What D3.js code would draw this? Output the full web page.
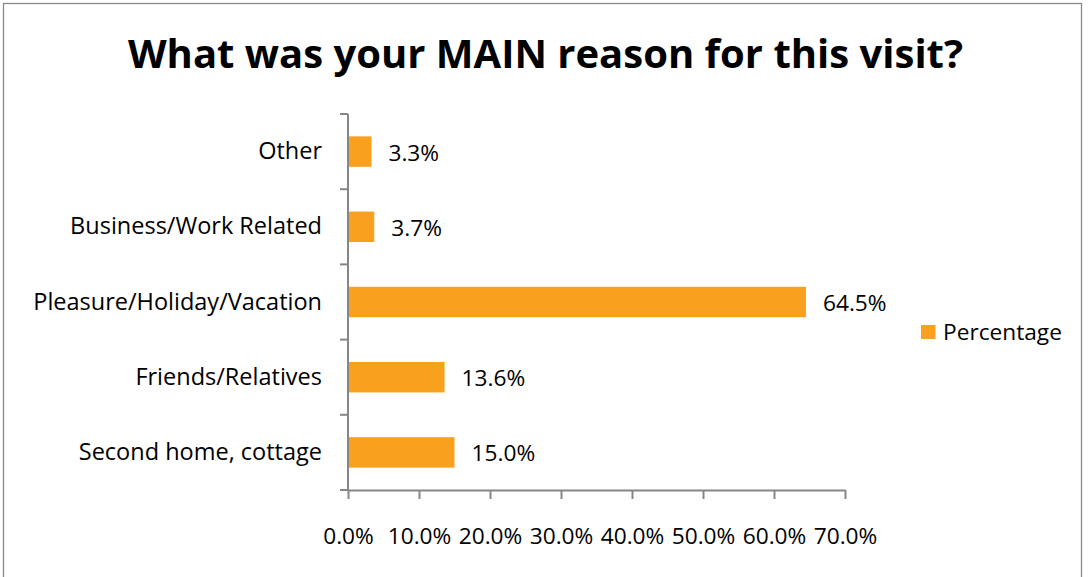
<!DOCTYPE html>
<html>
<head>
<meta charset="utf-8">
<script src="https://cdn.jsdelivr.net/npm/d3@7"></script>
<style>
  html, body { margin: 0; padding: 0; background: #fff; }
  svg { display: block; }
  text { font-family: "Open Sans", sans-serif; fill: #000; }
</style>
</head>
<body>
<svg id="chart" width="1091" height="577"></svg>
<script>
// Survey answers, listed top to bottom as they appear on the chart
const categories = ["Other", "Business/Work Related", "Pleasure/Holiday/Vacation", "Friends/Relatives", "Second home, cottage"];
const percentages = [3.3, 3.7, 64.5, 13.6, 15.0];
const tickValues = [0, 10, 20, 30, 40, 50, 60, 70];
const seriesName = "Percentage";
const chartTitle = "What was your MAIN reason for this visit?";

const svg = d3.select("#chart");
const W = 1091, H = 577;
const barColor = "#F9A11F";
const axisColor = "#868686";

// outer frame (open at the bottom edge)
svg.append("rect")
  .attr("x", 3.5).attr("y", 3.5)
  .attr("width", 1078).attr("height", 620)
  .attr("fill", "none").attr("stroke", "#8a8a8a").attr("stroke-width", 1.3);

svg.append("text")
  .attr("x", W / 2).attr("y", 68)
  .attr("text-anchor", "middle")
  .style("font-size", "40px").style("font-weight", "700")
  .text(chartTitle);

const plot = { left: 348, right: 845, top: 114, bottom: 490 };

const x = d3.scaleLinear().domain([0, 70]).range([plot.left, plot.right]);
const pad = 0.595;
const y = d3.scaleBand().domain(categories)
  .range([plot.top, plot.bottom])
  .paddingInner(pad).paddingOuter(pad / 2);

// bars
svg.append("g").selectAll("rect")
  .data(categories)
  .join("rect")
  .attr("x", x(0))
  .attr("y", d => y(d))
  .attr("width", (d, i) => x(percentages[i]) - x(0))
  .attr("height", y.bandwidth())
  .attr("fill", barColor);

// value labels
svg.append("g").selectAll("text")
  .data(categories)
  .join("text")
  .attr("x", (d, i) => x(percentages[i]) + 17)
  .attr("y", d => y(d) + y.bandwidth() / 2 + 9)
  .style("font-size", "22.7px")
  .text((d, i) => percentages[i].toFixed(1) + "%");

// x axis
const xAxis = d3.axisBottom(x)
  .tickValues(tickValues)
  .tickSize(9)
  .tickSizeOuter(0)
  .tickPadding(29)
  .tickFormat(d => d.toFixed(1) + "%");
const gx = svg.append("g").attr("transform", `translate(0,${plot.bottom})`).call(xAxis);
gx.select(".domain").attr("stroke", axisColor).attr("stroke-width", 2);
gx.selectAll(".tick line").attr("stroke", axisColor).attr("stroke-width", 2);
gx.selectAll(".tick text")
  .style("font-family", "'Open Sans', sans-serif")
  .style("font-size", "22.7px").attr("fill", "#000");

// y axis: line with ticks at category boundaries
const gy = svg.append("g");
gy.append("line")
  .attr("x1", plot.left).attr("x2", plot.left)
  .attr("y1", plot.top).attr("y2", plot.bottom)
  .attr("stroke", axisColor).attr("stroke-width", 2);
const step = y.step();
const bounds = d3.range(categories.length + 1).map(i => plot.top + i * step);
gy.selectAll("line.b")
  .data(bounds)
  .join("line")
  .attr("class", "b")
  .attr("x1", plot.left - 8).attr("x2", plot.left)
  .attr("y1", d => d).attr("y2", d => d)
  .attr("stroke", axisColor).attr("stroke-width", 2);

// category labels
gy.selectAll("text")
  .data(categories)
  .join("text")
  .attr("x", plot.left - 26)
  .attr("y", d => y(d) + y.bandwidth() / 2 + 7.5)
  .attr("text-anchor", "end")
  .style("font-size", "23.5px")
  .text(d => d);

// legend
const lg = svg.append("g");
lg.append("rect")
  .attr("x", 921).attr("y", 325)
  .attr("width", 14.5).attr("height", 14)
  .attr("fill", barColor);
lg.append("text")
  .attr("x", 943).attr("y", 339.5)
  .style("font-size", "22.7px")
  .text(seriesName);
</script>
</body>
</html>
